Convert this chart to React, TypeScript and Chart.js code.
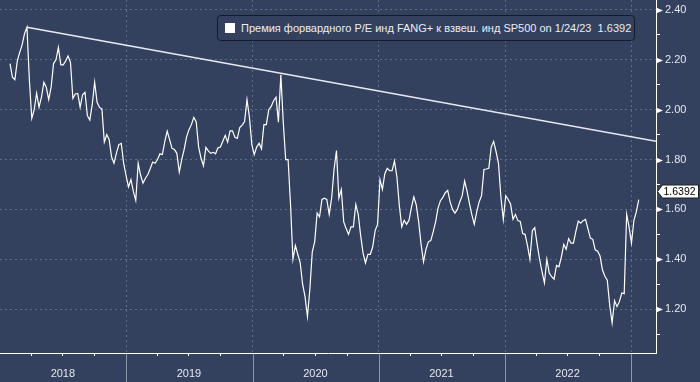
import React, { useEffect, useRef } from 'react';
import { Chart, registerables } from 'chart.js';

Chart.register(...registerables);

// ---- data ----
const seriesStart = '2018-01-29';
const seriesStepDays = 7;
const premiumValues = [
  2.185, 2.13, 2.12, 2.195, 2.23, 2.26, 2.305, 2.331, 2.12, 1.965,
  2.0, 2.066, 2.01, 2.05, 2.11, 2.09, 2.04, 2.09, 2.185, 2.2,
  2.25, 2.18, 2.18, 2.195, 2.215, 2.19, 2.045, 2.063, 2.065, 2.01,
  2.06, 2.07, 1.976, 1.958, 2.02, 2.11, 2.03, 2.009, 2.003, 1.87,
  1.9, 1.88, 1.81, 1.785, 1.826, 1.86, 1.865, 1.785, 1.735, 1.69,
  1.72, 1.672, 1.636, 1.785, 1.737, 1.705, 1.725, 1.74, 1.764, 1.79,
  1.785, 1.8, 1.823, 1.82, 1.872, 1.914, 1.88, 1.845, 1.84, 1.825,
  1.75, 1.8, 1.84, 1.89, 1.92, 1.94, 1.969, 1.952, 1.85, 1.805,
  1.775, 1.849, 1.835, 1.825, 1.829, 1.823, 1.847, 1.85, 1.873, 1.897,
  1.87, 1.915, 1.915, 1.889, 1.885, 1.928, 1.938, 1.952, 2.04, 1.97,
  1.86, 1.82, 1.85, 1.865, 1.843, 1.94, 1.94, 2.0, 2.013, 2.036,
  2.05, 1.95, 2.14, 1.95, 1.8, 1.8, 1.62, 1.4, 1.455, 1.42,
  1.386, 1.3, 1.25, 1.17, 1.28, 1.43, 1.47, 1.585, 1.57, 1.64,
  1.645, 1.64, 1.58, 1.645, 1.76, 1.836, 1.645, 1.68, 1.55, 1.523,
  1.5, 1.53, 1.53, 1.62, 1.58, 1.496, 1.425, 1.385, 1.42, 1.42,
  1.45, 1.515, 1.54, 1.72, 1.68, 1.743, 1.765, 1.755, 1.755, 1.795,
  1.73, 1.615, 1.53, 1.556, 1.54, 1.556, 1.608, 1.65, 1.618, 1.55,
  1.46, 1.39, 1.44, 1.47, 1.475, 1.51, 1.55, 1.605, 1.635, 1.648,
  1.667, 1.676, 1.63, 1.6, 1.585, 1.6, 1.63, 1.655, 1.714, 1.673,
  1.623, 1.578, 1.54, 1.59, 1.63, 1.655, 1.76, 1.762, 1.765, 1.85,
  1.873, 1.832, 1.785, 1.65, 1.56, 1.655, 1.64, 1.622, 1.56, 1.58,
  1.555, 1.552, 1.503, 1.5, 1.455, 1.4, 1.515, 1.527, 1.46, 1.4,
  1.35, 1.305, 1.4, 1.345, 1.33, 1.32, 1.375, 1.37, 1.409, 1.46,
  1.44, 1.483, 1.465, 1.465, 1.512, 1.553, 1.545, 1.555, 1.56, 1.522,
  1.485, 1.48, 1.438, 1.432, 1.413, 1.358, 1.332, 1.316, 1.215, 1.145,
  1.234, 1.21, 1.23, 1.265, 1.262, 1.58, 1.53, 1.465, 1.556, 1.59, 1.6392,
];
const trendDates = ['2018-03-19', '2023-03-14'];
const trendValues = [2.331, 1.873];
const axisStart = '2017-12-31';
const axisEnd = '2023-03-14';
const yMin = 1.024;
const yMax = 2.44;
const yearLabels = ['2018', '2019', '2020', '2021', '2022'];
const boundaryYears = ['2018', '2019', '2020', '2021', '2022', '2023'];
const lastValue = 1.6392;
const lastValueText = '1.6392';
const legendLabel = 'Премия форвардного P/E инд FANG+ к взвеш. инд SP500 on 1/24/23  1.6392';

// ---- style ----
const BG = '#33405e';
const GRID = '#5c6c8d';
const SEP = '#8e98ad';
const TXT = '#e4e7ee';
const FONT = "'Liberation Sans', Arial, sans-serif";
const CLEAR = 'rgba(0,0,0,0)';
const DAY = 86400000;

const ms = (s: string) => Date.parse(s + 'T00:00:00Z');

const isMajorY = (v: number) => Math.round(v * 10) % 2 === 0;

export default function App() {
  const ref = useRef<HTMLCanvasElement | null>(null);

  useEffect(() => {
    document.body.style.margin = '0';
    document.body.style.background = BG;
    const canvas = ref.current;
    if (!canvas) return;

    const t0 = ms(seriesStart);
    const seriesPts = premiumValues.map((v, i) => ({ x: t0 + i * seriesStepDays * DAY, y: v }));
    const trendPts = trendDates.map((d, i) => ({ x: ms(d), y: trendValues[i] }));

    const quarterTicks: number[] = [];
    boundaryYears.forEach((y) => {
      [0, 3, 6, 9].forEach((m) => {
        const v = Date.UTC(Number(y), m, 1);
        if (v <= ms(axisEnd)) quarterTicks.push(v);
      });
    });

    const decor = {
      id: 'decor',
      afterDraw(chart: any) {
        const ctx = chart.ctx;
        const xs = chart.scales.x;
        const ys = chart.scales.y;
        ctx.save();
        // year separators below axis
        ctx.strokeStyle = SEP;
        ctx.lineWidth = 1;
        xs.ticks.forEach((t: any) => {
          const d = new Date(t.value);
          if (d.getUTCMonth() === 0 && d.getUTCFullYear() > 2018) {
            const px = Math.round(xs.getPixelForValue(t.value)) + 0.5;
            ctx.beginPath();
            ctx.moveTo(px, xs.top + 1);
            ctx.lineTo(px, chart.height);
            ctx.stroke();
          }
        });
        // major tick arrows on right axis
        ctx.fillStyle = '#ffffff';
        ys.ticks.forEach((t: any) => {
          if (!isMajorY(t.value)) return;
          const py = Math.round(ys.getPixelForValue(t.value)) + 0.5;
          ctx.beginPath();
          ctx.moveTo(ys.left, py - 3);
          ctx.lineTo(ys.left + 7, py);
          ctx.lineTo(ys.left, py + 3);
          ctx.closePath();
          ctx.fill();
        });
        // last value label
        const ly = Math.round(ys.getPixelForValue(lastValue)) - 9 + 0.5;
        const x0 = ys.left + 1.5;
        const x1 = x0 + 5;
        const x2 = 698.5;
        ctx.beginPath();
        ctx.moveTo(x0, ly);
        ctx.lineTo(x1, ly - 6.5);
        ctx.lineTo(x2, ly - 6.5);
        ctx.lineTo(x2, ly + 6.5);
        ctx.lineTo(x1, ly + 6.5);
        ctx.closePath();
        ctx.fillStyle = '#ffffff';
        ctx.fill();
        ctx.strokeStyle = '#222';
        ctx.lineWidth = 1;
        ctx.stroke();
        ctx.fillStyle = '#000000';
        ctx.font = `10.5px ${FONT}`;
        ctx.textBaseline = 'middle';
        ctx.textAlign = 'left';
        ctx.fillText(lastValueText, x1 + 1, ly + 0.5);
        ctx.restore();
      },
    };

    const chart = new Chart(canvas, {
      type: 'line',
      data: {
        datasets: [
          {
            data: seriesPts,
            borderColor: '#ffffff',
            borderWidth: 1.2,
            pointRadius: 0,
            tension: 0,
            fill: false,
          },
          {
            data: trendPts,
            borderColor: '#e8eaf0',
            borderWidth: 1.5,
            pointRadius: 0,
            tension: 0,
            fill: false,
          },
        ],
      },
      options: {
        responsive: false,
        animation: false,
        events: [],
        layout: { padding: 0 },
        plugins: { legend: { display: false }, tooltip: { enabled: false } },
        scales: {
          x: {
            type: 'linear',
            position: 'bottom',
            min: ms(axisStart),
            max: ms(axisEnd),
            afterBuildTicks: (s: any) => {
              s.ticks = quarterTicks.map((v) => ({ value: v }));
            },
            afterFit: (s: any) => {
              s.height = 29;
              s.paddingLeft = 0;
              s.paddingRight = 0;
            },
            ticks: {
              autoSkip: false,
              maxRotation: 0,
              minRotation: 0,
              padding: 11,
              color: TXT,
              font: { family: FONT, size: 11 },
              callback: (v: any) => {
                const d = new Date(Number(v));
                if (d.getUTCMonth() !== 6) return '';
                const y = String(d.getUTCFullYear());
                return yearLabels.includes(y) ? y : '';
              },
            },
            grid: {
              color: (c: any) => {
                const d = new Date(c.tick ? c.tick.value : 0);
                return d.getUTCMonth() === 0 && d.getUTCFullYear() > 2018 ? GRID : CLEAR;
              },
              tickColor: (c: any) => {
                const d = new Date(c.tick ? c.tick.value : 0);
                return d.getUTCMonth() === 0 ? CLEAR : '#ffffff';
              },
              tickLength: 3,
              lineWidth: 1,
            },
            border: { color: '#ffffff', width: 1, dash: [2, 3] },
          },
          y: {
            type: 'linear',
            position: 'right',
            min: yMin,
            max: yMax,
            afterFit: (s: any) => {
              s.width = 44;
              s.paddingTop = 0;
              s.paddingBottom = 0;
            },
            ticks: {
              stepSize: 0.1,
              includeBounds: false,
              padding: 5,
              color: TXT,
              font: { family: FONT, size: 11 },
              callback: (v: any) => (isMajorY(Number(v)) ? Number(v).toFixed(2) : ''),
            },
            grid: {
              color: (c: any) => (c.tick && isMajorY(c.tick.value) ? GRID : CLEAR),
              tickColor: (c: any) => (c.tick && isMajorY(c.tick.value) ? CLEAR : '#ffffff'),
              tickLength: 4,
              lineWidth: 1,
            },
            border: { color: '#ffffff', width: 1, dash: [2, 3] },
          },
        },
      } as any,
      plugins: [decor as any],
    });

    return () => chart.destroy();
  }, []);

  return (
    <div style={{ position: 'relative', width: 700, height: 382, background: BG, overflow: 'hidden' }}>
      <canvas ref={ref} width={700} height={382} style={{ display: 'block', width: 700, height: 382 }} />
      <div
        style={{
          position: 'absolute',
          left: 217,
          top: 15,
          width: 418,
          height: 26,
          boxSizing: 'border-box',
          border: '1px solid #151b29',
          borderRadius: 4,
          background: BG,
          display: 'flex',
          alignItems: 'center',
          fontFamily: FONT,
          fontSize: 11,
          color: '#eceef3',
          whiteSpace: 'pre',
        }}
      >
        <span style={{ display: 'inline-block', width: 10, height: 10, background: '#ffffff', marginLeft: 7, marginRight: 6 }} />
        <span>{legendLabel}</span>
      </div>
    </div>
  );
}
